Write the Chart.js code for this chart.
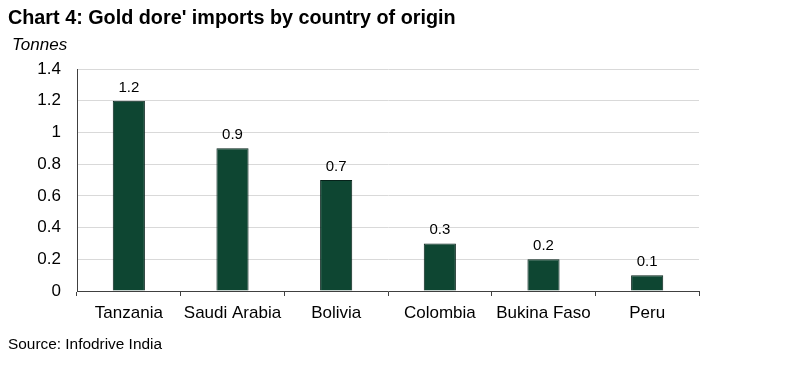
<!DOCTYPE html>
<html>
<head>
<meta charset="utf-8">
<script src="https://cdn.jsdelivr.net/npm/chart.js@4"></script>
<style>
  html, body { margin: 0; padding: 0; background: #fff; overflow: hidden; }
  canvas { display: block; }
</style>
</head>
<body>
<canvas id="myChart" width="800" height="366"></canvas>
<script>
// 차트 데이터
const countries = ['Tanzania', 'Saudi Arabia', 'Bolivia', 'Colombia', 'Bukina Faso', 'Peru'];
const tonnes = [1.2, 0.9, 0.7, 0.3, 0.2, 0.1];
const yTicks = [0, 0.2, 0.4, 0.6, 0.8, 1, 1.2, 1.4];

const titleText = "Chart 4: Gold dore' imports by country of origin";
const unitText = 'Tonnes';
const sourceText = 'Source: Infodrive India';

const FONT = '"Liberation Sans", Arial, sans-serif';

// 제목 / 단위 / 출처 텍스트
const textPlugin = {
  id: 'texts',
  afterDraw(chart) {
    const c = chart.ctx;
    c.save();
    c.fillStyle = '#000';
    c.textAlign = 'left';
    c.textBaseline = 'alphabetic';
    c.font = 'bold 19.8px ' + FONT;
    c.fillText(titleText, 8, 24);
    c.font = 'italic 17px ' + FONT;
    c.fillText(unitText, 12, 50);
    c.font = '15.4px ' + FONT;
    c.fillText(sourceText, 8, 349);
    c.restore();
  }
};

// 막대 위 값 표시
const valuePlugin = {
  id: 'values',
  afterDatasetsDraw(chart) {
    const c = chart.ctx;
    const meta = chart.getDatasetMeta(0);
    c.save();
    c.fillStyle = '#000';
    c.font = '15px ' + FONT;
    c.textAlign = 'center';
    c.textBaseline = 'alphabetic';
    meta.data.forEach((bar, i) => {
      c.fillText(String(tonnes[i]), bar.x, bar.y - 9);
    });
    c.restore();
  }
};

const ctx = document.getElementById('myChart');

new Chart(ctx, {
  type: 'bar',
  data: {
    labels: countries,
    datasets: [{
      label: 'Tonnes',
      data: tonnes,
      backgroundColor: '#0e4632',
      borderColor: '#06221a',
      borderWidth: 1,
      categoryPercentage: 1,
      barPercentage: 0.31
    }]
  },
  options: {
    responsive: false,
    animation: false,
    devicePixelRatio: 1,
    layout: { padding: { left: 0, right: 101, top: 69, bottom: 30 } },
    plugins: {
      legend: { display: false },
      tooltip: { enabled: false }
    },
    scales: {
      x: {
        offset: true,
        grid: {
          display: true,
          drawOnChartArea: false,
          offset: true,
          tickLength: 5,
          color: '#404040'
        },
        border: { color: '#404040', width: 1 },
        ticks: { color: '#000', font: { family: FONT, size: 17 }, padding: 7 },
        afterFit: (s) => { s.height = 45; }
      },
      y: {
        min: 0,
        max: 1.4,
        afterBuildTicks: (s) => { s.ticks = yTicks.map(v => ({ value: v })); },
        grid: { color: '#d9d9d9', drawTicks: false },
        border: { color: '#404040', width: 1 },
        ticks: {
          color: '#000',
          font: { family: FONT, size: 17 },
          padding: 16,
          callback: (v) => String(v)
        },
        afterFit: (s) => { s.width = 77; }
      }
    }
  },
  plugins: [textPlugin, valuePlugin]
});
</script>
</body>
</html>
